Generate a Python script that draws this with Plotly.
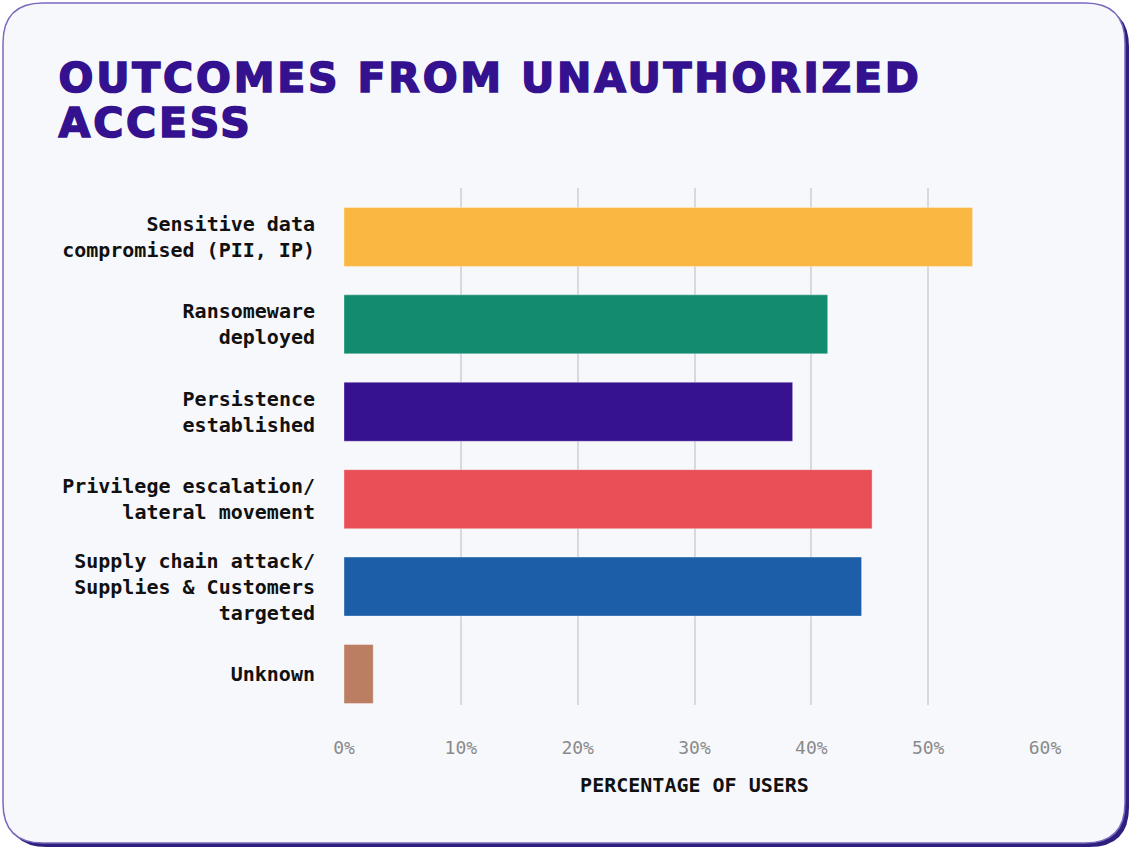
import plotly.graph_objects as go

# data
categories = [
    "Sensitive data<br>compromised (PII, IP)",
    "Ransomeware<br>deployed",
    "Persistence<br>established",
    "Privilege escalation/<br>lateral movement",
    "Supply chain attack/<br>Supplies & Customers<br>targeted",
    "Unknown",
]
values = [53.8, 41.4, 38.4, 45.2, 44.3, 2.5]
bar_colors = ["#FAB843", "#128B6F", "#361190", "#E84F56", "#1C5FA8", "#BC7E62"]
tick_vals = [0, 10, 20, 30, 40, 50, 60]
tick_text = ["0%", "10%", "20%", "30%", "40%", "50%", "60%"]
title_lines = ["OUTCOMES FROM UNAUTHORIZED", "ACCESS"]

W, H = 1131, 848
L, R, T, B = 344, 86, 188, 143
PW, PH = W - L - R, H - T - B
LETTER_SP = 2.8


def px(x):
    return (x - L) / PW


def py(y):
    return (H - B - y) / PH


def rounded(x0, y0, x1, y1, r):
    # rounded rectangle path in paper coords, pixel input
    pts = [
        f"M {px(x0 + r)} {py(y0)}",
        f"L {px(x1 - r)} {py(y0)}",
        f"Q {px(x1)} {py(y0)} {px(x1)} {py(y0 + r)}",
        f"L {px(x1)} {py(y1 - r)}",
        f"Q {px(x1)} {py(y1)} {px(x1 - r)} {py(y1)}",
        f"L {px(x0 + r)} {py(y1)}",
        f"Q {px(x0)} {py(y1)} {px(x0)} {py(y1 - r)}",
        f"L {px(x0)} {py(y0 + r)}",
        f"Q {px(x0)} {py(y0)} {px(x0 + r)} {py(y0)}",
        "Z",
    ]
    return " ".join(pts)


fig = go.Figure()

fig.add_trace(go.Bar(
    x=values,
    y=categories,
    orientation="h",
    marker=dict(color=bar_colors, line=dict(color="rgba(255,255,255,0.35)", width=1)),
    width=0.675,
    hoverinfo="x+y",
))

title_font = dict(family="DejaVu Sans", size=41, color="#34128F", weight=900)

fig.update_layout(
    width=W,
    height=H,
    margin=dict(l=L, r=R, t=T, b=B),
    paper_bgcolor="white",
    plot_bgcolor="rgba(0,0,0,0)",
    showlegend=False,
    shapes=[
        # shadow + card
        dict(type="path", xref="paper", yref="paper", layer="below",
             path=rounded(7, 7, 1129, 847, 40),
             fillcolor="#2E1F7E", line=dict(width=0)),
        dict(type="path", xref="paper", yref="paper", layer="below",
             path=rounded(3, 3, 1125, 843, 40),
             fillcolor="#F7F8FC", line=dict(color="#7C69BE", width=1.5)),
    ],
    annotations=[
        dict(text=line, xref="paper", yref="paper",
             x=px(57), y=py(ymid), xanchor="left", yanchor="middle", showarrow=False,
             xshift=len(line) * LETTER_SP / 2, font=title_font)
        for line, ymid in zip(title_lines, [78, 123])
    ],
)

fig.update_xaxes(
    range=[0, 60],
    tickvals=tick_vals,
    ticktext=tick_text,
    showgrid=True,
    gridcolor="#D8D8DE",
    gridwidth=1.5,
    zeroline=False,
    showline=False,
    ticks="",
    ticklabelstandoff=30,
    tickfont=dict(family="DejaVu Sans Mono", size=18, color="#8A8A8A"),
    title=dict(text="PERCENTAGE OF USERS", standoff=20,
               font=dict(family="DejaVu Sans Mono", size=20, color="#111111", weight="bold")),
    fixedrange=True,
)

fig.update_yaxes(
    range=[5.355, -0.56],
    showgrid=False,
    zeroline=False,
    showline=False,
    ticks="",
    ticklabelstandoff=28,
    tickfont=dict(family="DejaVu Sans Mono", size=20, color="#111111", weight="bold"),
    fixedrange=True,
)

# remove the page margin, widen and thicken the title letters
post = """
document.body.style.margin = '0';
document.querySelectorAll('.annotation-text').forEach(function (t) {
  t.style.letterSpacing = '%spx';
  t.style.stroke = '#34128F';
  t.style.strokeWidth = '1.6px';
});
""" % LETTER_SP

fig.write_html("out.html", post_script=post, config={"displayModeBar": False})
